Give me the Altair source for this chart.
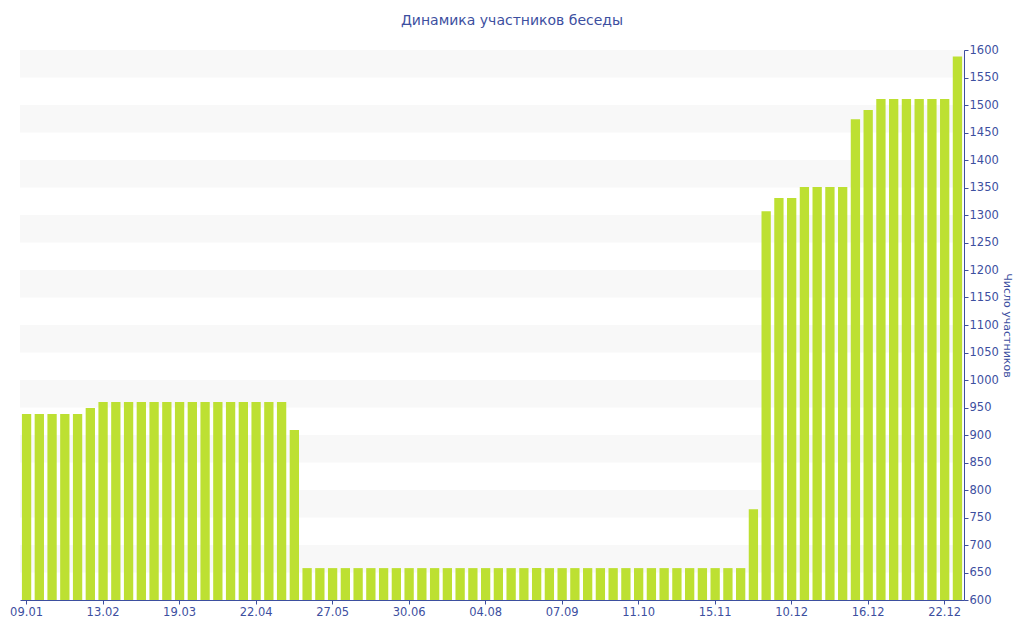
import altair as alt
import pandas as pd

# Values of the 74 bars (number of chat members)
values = (
    [938, 938, 938, 938, 938, 949]
    + [960] * 15
    + [909]
    + [658] * 35
    + [765, 1307, 1331, 1331, 1351, 1351, 1351, 1351, 1474, 1491,
       1511, 1511, 1511, 1511, 1511, 1511, 1588]
)
tick_labels = ["09.01", "13.02", "19.03", "22.04", "27.05", "30.06", "04.08",
               "07.09", "11.10", "15.11", "10.12", "16.12", "22.12"]
label_every = 6
band_starts = [650, 750, 850, 950, 1050, 1150, 1250, 1350, 1450, 1550]
band_height = 50
y_ticks = list(range(600, 1601, 50))

title_text = "Динамика участников беседы"
y_title = "Число участников"

blue = "#3d4f9f"
bar_color = "#bde032"
band_color = "#f8f8f8"

df = pd.DataFrame({"idx": list(range(len(values))), "v": values})
bands = pd.DataFrame({"y0": band_starts, "y1": [b + band_height for b in band_starts]})

W, H = 944, 550
yscale = alt.Scale(domain=[600, 1600], zero=False, nice=False)

label_arr = "[" + ",".join("'" + s + "'" for s in tick_labels) + "]"

y_axis = alt.Axis(
    orient="right",
    values=y_ticks,
    format="d",
    labelOverlap=False,
    title=y_title,
    titleColor=blue,
    titleFont="DejaVu Sans",
    titleFontSize=11,
    titleFontWeight="normal",
    titlePadding=3,
    labelColor=blue,
    labelFont="DejaVu Sans",
    labelFontSize=11.5,
    domainColor=blue,
    tickColor=blue,
    tickSize=4,
    labelPadding=1,
    grid=False,
)

bg = alt.Chart(bands).mark_rect(color=band_color).encode(
    x=alt.value(0),
    x2=alt.value(W),
    y=alt.Y("y0:Q", scale=yscale, axis=y_axis, title=y_title),
    y2="y1:Q",
)

bars = alt.Chart(df).mark_bar(color=bar_color).encode(
    x=alt.X(
        "idx:O",
        scale=alt.Scale(paddingInner=0.27, paddingOuter=0.15),
        axis=alt.Axis(
            values=list(range(0, len(values), label_every)),
            labelExpr=label_arr + "[datum.value/" + str(label_every) + "]",
            labelAngle=0,
            title=None,
            labelColor=blue,
            labelFont="DejaVu Sans",
            labelFontSize=11.5,
            domainColor=blue,
            tickColor=blue,
            tickSize=4,
            labelPadding=2,
        ),
    ),
    y=alt.Y("v:Q", scale=yscale, axis=y_axis, title=y_title),
    y2=alt.datum(600),
)

chart = (
    alt.layer(bg, bars)
    .properties(
        width=W,
        height=H,
        title=alt.TitleParams(
            title_text,
            font="DejaVu Sans",
            fontSize=14,
            fontWeight="normal",
            color=blue,
            anchor="middle",
            offset=16,
            dx=20,
        ),
        autosize=alt.AutoSizeParams(type="none"),
        padding={"left": 12, "top": 42, "right": 50, "bottom": 28},
    )
    .configure_view(stroke=None)
)

chart.save("out.html", embed_options={"renderer": "svg", "actions": False})
